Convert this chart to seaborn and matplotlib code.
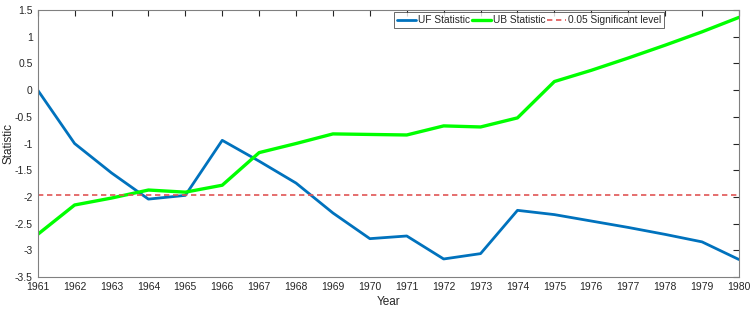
import matplotlib.pyplot as plt
import pandas as pd
import seaborn as sns

years = list(range(1961, 1981))
uf_values = [0.0, -1.0, -1.55, -2.04, -1.97, -0.94, -1.33, -1.74, -2.30, -2.78,
             -2.73, -3.16, -3.06, -2.25, -2.33, -2.45, -2.57, -2.70, -2.84, -3.17]
ub_values = [-2.70, -2.15, -2.02, -1.87, -1.91, -1.78, -1.17, -1.00, -0.82, -0.83,
             -0.84, -0.67, -0.69, -0.52, 0.16, 0.37, 0.60, 0.84, 1.09, 1.36]
sig_level = -1.96

sns.set_style("white")
plt.rcParams["font.family"] = ["Liberation Sans", "DejaVu Sans"]

df = pd.DataFrame({"Year": years, "UF": uf_values, "UB": ub_values})

fig = plt.figure(figsize=(7.54, 3.10), dpi=100)
ax = fig.add_axes([0.050, 0.106, 0.930, 0.862])

sns.lineplot(data=df, x="Year", y="UF", ax=ax, color="#0072BD", linewidth=2,
             label="UF Statistic")
sns.lineplot(data=df, x="Year", y="UB", ax=ax, color="#00FF00", linewidth=2.4,
             label="UB Statistic")
ax.axhline(sig_level, color="#E05555", linestyle=(0, (3.2, 2.2)), linewidth=1.2,
           label="0.05 Significant level")

ax.set_xlim(1961, 1980)
ax.set_ylim(-3.5, 1.5)
ax.set_xticks(years)
ax.set_yticks([-3.5, -3, -2.5, -2, -1.5, -1, -0.5, 0, 0.5, 1, 1.5])
ax.set_yticklabels(["-3.5", "-3", "-2.5", "-2", "-1.5", "-1", "-0.5", "0", "0.5", "1", "1.5"])
ax.tick_params(direction="in", length=4, labelsize=7.5, colors="#262626",
               top=True, right=True, width=0.8)
for s in ax.spines.values():
    s.set_color("#808080")
    s.set_linewidth(0.8)
ax.set_xlabel("Year", fontsize=8.5, labelpad=3)
ax.set_ylabel("Statistic", fontsize=8.5, va="center")
ax.yaxis.set_label_coords(-0.042, 0.5)

leg = ax.legend(loc="upper right", bbox_to_anchor=(0.895, 0.995), ncol=3,
                fontsize=7.3, frameon=True, fancybox=False, borderpad=0.3,
                handlelength=1.9, handletextpad=0.15, columnspacing=0.2,
                borderaxespad=0.1)
leg.get_frame().set_edgecolor("#262626")
leg.get_frame().set_linewidth(0.6)

fig.savefig("out.png", dpi=100)
